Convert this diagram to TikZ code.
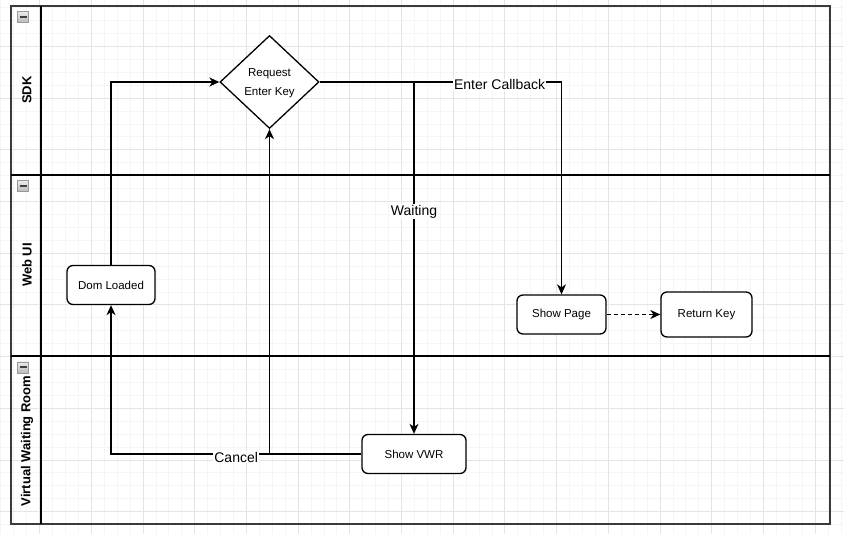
\documentclass[tikz,border=0pt]{standalone}
\usepackage{fontspec}
\setmainfont{Liberation Sans}
\usetikzlibrary{arrows.meta, shapes.geometric}
\definecolor{gminor}{HTML}{F5F5F5}
\definecolor{gmajor}{HTML}{E4E4E4}
\definecolor{cpool}{HTML}{3A3A3A}
\tikzset{
  every picture/.style={line width=1.3pt},
  proc/.style={draw, fill=white, rounded corners=6pt, minimum width=#1, minimum height=39pt, inner sep=0pt, font=\fontsize{11.5}{14}\selectfont},
  proc/.default=88pt,
  decision/.style={draw, fill=white, diamond, minimum width=99pt, minimum height=93pt, inner sep=0pt, align=center, font=\fontsize{11.5}{19}\selectfont},
  arrow/.style={-{Stealth[length=10pt, width=9pt, inset=3pt]}},
  lbl/.style={fill=white, inner sep=1pt, font=\fontsize{14}{16}\selectfont},
  lane/.style={rotate=90, font=\fontsize{13}{15}\selectfont\bfseries},
  collapse/.style={draw=gray!80, top color=gray!15, bottom color=gray!55, minimum size=11pt, inner sep=0pt, line width=0.8pt,
    path picture={\draw[gray!50!black, line width=2pt] ([xshift=2pt]path picture bounding box.west) -- ([xshift=-2pt]path picture bounding box.east);}},
}

\begin{document}
\begin{tikzpicture}[x=1pt, y=-1pt, gridminor/.style={draw=gminor, line width=0.8pt}, gridmajor/.style={draw=gmajor, line width=0.8pt}]
  \useasboundingbox (0,0) rectangle (844,534);
  \fill[white] (0,0) rectangle (844,534);
  \foreach \i in {0,...,65} {\pgfmathsetmacro\gx{0.8+12.925*\i} \draw[gridminor] (\gx,0) -- (\gx,534);}
  \foreach \i in {0,...,40} {\pgfmathsetmacro\gy{7.6+12.925*\i} \draw[gridminor] (0,\gy) -- (844,\gy);}
  \foreach \i in {3,7,...,63} {\pgfmathsetmacro\gx{0.8+12.925*\i} \draw[gridmajor] (\gx,0) -- (\gx,534);}
  \foreach \i in {3,7,...,39} {\pgfmathsetmacro\gy{7.6+12.925*\i} \draw[gridmajor] (0,\gy) -- (844,\gy);}

  \draw[cpool, line width=1.5pt] (11,6) rectangle (830,524);
  \draw (41,6) -- (41,524);
  \draw[line width=2pt] (11,175) -- (830,175);
  \draw[line width=2pt] (11,356) -- (830,356);

  \node[collapse] (c1) at (23,17) {};
  \node[collapse] (c2) at (23,186) {};
  \node[collapse] (c3) at (23,367.5) {};
  \node[lane] (sdk) at (27,90) {SDK};
  \node[lane] (web) at (27,265) {Web UI};
  \node[lane] (vr) at (27,441) {Virtual Waiting Room};

  \node[decision] (req) at (269.5,82) {\raisebox{-2pt}{\begin{tabular}{@{}c@{}}Request\\Enter Key\end{tabular}}};
  \node[proc=88pt] (dom) at (111,285) {Dom Loaded};
  \node[proc=89pt] (page) at (561.5,314.5) {Show Page};
  \node[proc=91pt, minimum height=45pt] (key) at (706.5,314.5) {Return Key};
  \node[proc=104pt] (vwr) at (414,454) {Show VWR};

  \draw[arrow] (dom.north) |- (req.west);
  \draw[arrow] (req.east) -| node[lbl, pos=.372, yshift=-3pt] (cb) {Enter Callback} (page.north);
  \draw[arrow] (req.east) -| node[lbl, pos=.684] (wt) {Waiting} (vwr.north);
  \draw[arrow] (vwr.west) -| node[lbl, pos=.25, yshift=-3pt] (cn) {Cancel} (dom.south);
  \draw[arrow] (vwr.west) -| (req.south);
  \draw[arrow, dash pattern=on 4pt off 3pt] (page.east) -- (key.west);
\end{tikzpicture}
\end{document}
